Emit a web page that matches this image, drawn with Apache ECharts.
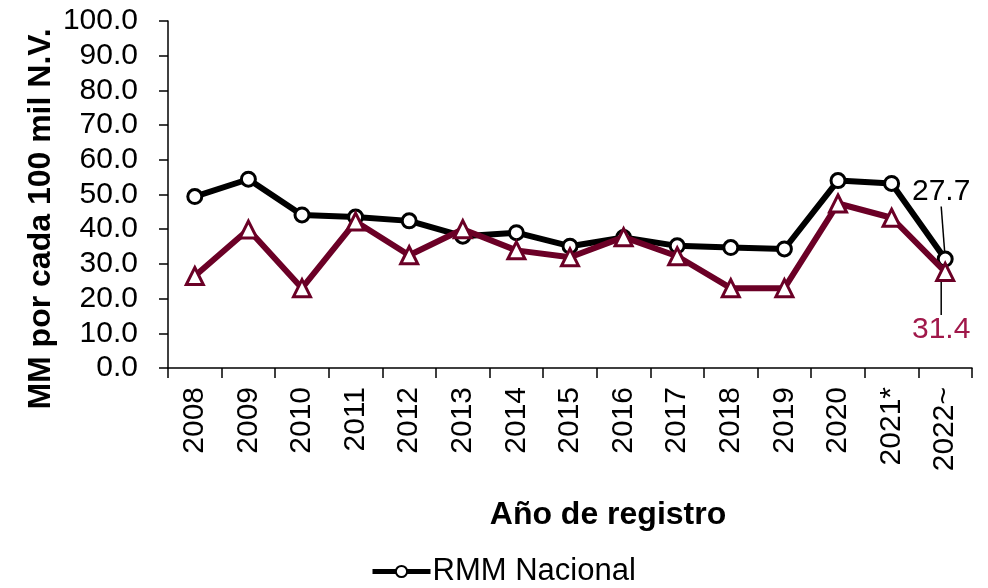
<!DOCTYPE html>
<html>
<head>
<meta charset="utf-8">
<script src="https://cdn.jsdelivr.net/npm/echarts@6/dist/echarts.min.js"></script>
<style>html,body{margin:0;padding:0;background:#fff}#chart{width:988px;height:588px}</style>
</head>
<body>
<div id="chart"></div>
<script>
var categories = ['2008','2009','2010','2011','2012','2013','2014','2015','2016','2017','2018','2019','2020','2021*','2022~'];
var rmmNacional = [49.4, 54.4, 44.1, 43.5, 42.4, 38.0, 39.0, 35.1, 37.6, 35.2, 34.7, 34.3, 54.0, 53.2, 31.4];
var rmmEntidad = [26.5, 39.9, 23.0, 42.2, 32.5, 40.0, 33.9, 31.9, 37.7, 32.2, 23.0, 23.0, 47.4, 43.3, 27.7];
var endLabels = ['27.7', '31.4']; // labels as printed in the reference
var yTicks = [0, 10, 20, 30, 40, 50, 60, 70, 80, 90, 100];

var FONT = "'Liberation Sans', Arial, sans-serif";
var RED = '#6b0026';
var chart = echarts.init(document.getElementById('chart'));
var last = categories.length - 1;

function withEnd(arr, idx, labelText, pos, dist, color) {
  return arr.map(function (v, i) {
    if (i !== idx) return v;
    return {
      value: v,
      label: { show: true, position: pos, distance: dist, formatter: labelText,
               color: color, fontSize: 30, fontFamily: FONT },
      labelLine: { show: true, lineStyle: { color: '#000', width: 1.5 } }
    };
  });
}
function endLayout(p) { return p.dataIndex === last ? { dx: -4, dy: 0 } : null; }

chart.setOption({
  animation: false,
  grid: { left: 168, top: 21, width: 804, height: 347, containLabel: false },
  xAxis: {
    type: 'category',
    data: categories,
    boundaryGap: true,
    axisLine: { lineStyle: { color: '#000', width: 1.5 } },
    axisTick: { show: true, length: 10, lineStyle: { color: '#000', width: 1.5 } },
    axisLabel: { rotate: 90, fontSize: 30, color: '#000', fontFamily: FONT, margin: 19 }
  },
  yAxis: {
    type: 'value',
    min: yTicks[0],
    max: yTicks[yTicks.length - 1],
    interval: 10,
    splitLine: { show: false },
    axisLine: { show: true, lineStyle: { color: '#000', width: 1.5 } },
    axisTick: { show: true, length: 9, lineStyle: { color: '#000', width: 1.5 } },
    axisLabel: { fontSize: 30, color: '#000', fontFamily: FONT, margin: 30,
                 formatter: function (v) { return v.toFixed(1); } }
  },
  legend: {
    data: ['RMM Nacional'],
    top: 551,
    left: 365,
    itemWidth: 58,
    itemHeight: 14,
    itemGap: 4,
    lineStyle: { width: 5 },
    textStyle: { fontSize: 31, color: '#000', fontFamily: FONT, padding: [0, 0, 0, -3] }
  },
  graphic: [
    { type: 'text', x: 41, y: 219, rotation: Math.PI / 2,
      style: { text: 'MM por cada 100 mil N.V.', font: 'bold 32px ' + FONT, fill: '#000',
               textAlign: 'center', textVerticalAlign: 'middle' } },
    { type: 'text', x: 608, y: 515,
      style: { text: 'Año de registro', font: 'bold 32px ' + FONT, fill: '#000',
               textAlign: 'center', textVerticalAlign: 'middle' } }
  ],
  series: [
    {
      name: 'RMM Nacional',
      type: 'line',
      data: withEnd(rmmNacional, last, endLabels[0], 'top', 44, '#000'),
      z: 2,
      symbol: 'circle',
      symbolSize: 14,
      lineStyle: { color: '#000', width: 6 },
      itemStyle: { color: '#fff', borderColor: '#000', borderWidth: 3 },
      labelLayout: endLayout
    },
    {
      name: 'RMM Entidad',
      type: 'line',
      data: withEnd(rmmEntidad, last, endLabels[1], 'bottom', 33, '#a0184a'),
      z: 3,
      symbol: 'triangle',
      symbolSize: 17,
      lineStyle: { color: RED, width: 6 },
      itemStyle: { color: '#fff', borderColor: RED, borderWidth: 3 },
      labelLayout: endLayout
    }
  ]
});
</script>
</body>
</html>
